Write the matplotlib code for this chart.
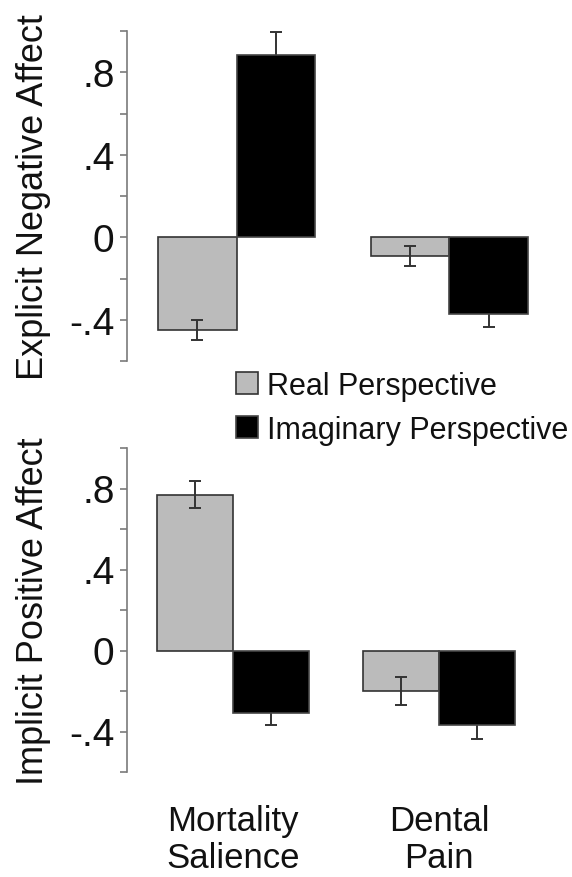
import matplotlib.pyplot as plt
from matplotlib.patches import Patch
import numpy as np

plt.rcParams["font.family"] = ["Liberation Sans", "DejaVu Sans"]

conditions = ["Mortality\nSalience", "Dental\nPain"]
series = ["Real Perspective", "Imaginary Perspective"]

# top panel: explicit negative affect
explicit_real = [-0.45, -0.09]
explicit_real_err = [0.05, 0.05]
explicit_imag = [0.885, -0.37]
explicit_imag_err = [0.11, 0.065]

# bottom panel: implicit positive affect
implicit_real = [0.77, -0.20]
implicit_real_err = [0.067, 0.07]
implicit_imag = [-0.31, -0.37]
implicit_imag_err = [0.06, 0.065]

tick_values = [-0.6, -0.4, -0.2, 0.0, 0.2, 0.4, 0.6, 0.8, 1.0]
tick_labels = ["", "-.4", "", "0", "", ".4", "", ".8", ""]

GREY = "#bbbbbb"
BLACK = "#000000"
AXIS_GREY = "#7a7a7a"
TEXT = "#111111"
WIDTH = 0.37


def draw_panel(ax, real, real_err, imag, imag_err, ylabel):
    x = np.arange(len(conditions))
    ax.bar(x - WIDTH / 2, real, WIDTH, color=GREY, edgecolor="#333333", linewidth=1.2, zorder=2)
    ax.bar(x + WIDTH / 2, imag, WIDTH, color=BLACK, edgecolor="#444444", linewidth=1.2, zorder=2)
    # grey bars show the whole error bar, black bars hide the inner half
    ax.errorbar(x - WIDTH / 2, real, yerr=real_err, fmt="none", ecolor="#333333",
                elinewidth=1.4, capsize=4, capthick=1.4, zorder=3)
    ax.errorbar(x + WIDTH / 2, imag, yerr=imag_err, fmt="none", ecolor="#333333",
                elinewidth=1.4, capsize=4, capthick=1.4, zorder=1)
    ax.set_xlim(-0.515, 1.52)
    ax.set_ylim(-0.6, 1.0)
    ax.set_yticks(tick_values)
    ax.set_yticklabels(tick_labels)
    for side in ("top", "right", "bottom"):
        ax.spines[side].set_visible(False)
    ax.spines["left"].set_color(AXIS_GREY)
    ax.spines["left"].set_linewidth(1.2)
    ax.tick_params(axis="y", direction="out", length=5, width=1.2, color=AXIS_GREY,
                   labelsize=28, labelcolor=TEXT, pad=4)
    ax.set_ylabel(ylabel, fontsize=26, color=TEXT, labelpad=13)


fig = plt.figure(figsize=(5.72, 8.78), dpi=100)
ax_top = fig.add_axes([127 / 572, 1 - 362 / 878, 433 / 572, 330 / 878])
ax_bot = fig.add_axes([127 / 572, 1 - 773 / 878, 419 / 572, 324 / 878])

draw_panel(ax_top, explicit_real, explicit_real_err, explicit_imag, explicit_imag_err,
           "Explicit Negative Affect")
draw_panel(ax_bot, implicit_real, implicit_real_err, implicit_imag, implicit_imag_err,
           "Implicit Positive Affect")

ax_top.set_xticks([])
ax_bot.set_xticks(np.arange(len(conditions)))
ax_bot.set_xticklabels(conditions, fontsize=25, color=TEXT, linespacing=1.15)
ax_bot.tick_params(axis="x", length=0, pad=23)

handles = [Patch(facecolor=GREY, edgecolor="#333333", linewidth=1.2),
           Patch(facecolor=BLACK, edgecolor="#444444", linewidth=1.2)]
fig.legend(handles, series, loc="upper left", bbox_to_anchor=(236 / 572, 1 - 372 / 878),
           frameon=False, fontsize=22, handlelength=0.72, handleheight=0.72,
           handletextpad=0.3, labelspacing=0.45, borderpad=0, borderaxespad=0,
           labelcolor=TEXT)

fig.savefig("out.png", dpi=100)
